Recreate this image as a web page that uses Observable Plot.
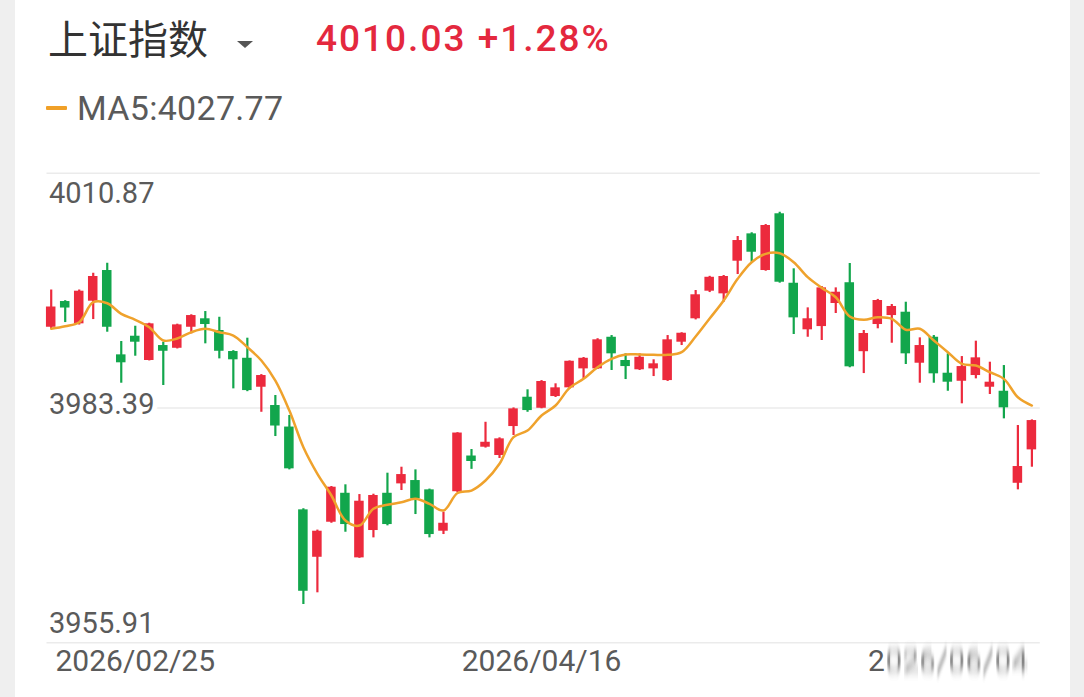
<!DOCTYPE html>
<html>
<head>
<meta charset="utf-8">
<script src="https://cdn.jsdelivr.net/npm/d3@7"></script>
<script src="https://cdn.jsdelivr.net/npm/@observablehq/plot@0.6"></script>
<style>
  html, body { margin: 0; padding: 0; background: #fff; }
  body { width: 1084px; height: 697px; overflow: hidden; position: relative; }
  #header { position: relative; width: 1084px; height: 140px; }
  .abs { position: absolute; line-height: 1; white-space: nowrap; }
  #title { left: 48px; top: 17px; font-family: "Noto Sans CJK SC", sans-serif; font-size: 40px; color: #333; }
  #tri { left: 237px; top: 41px; width: 0; height: 0; border-left: 8px solid transparent; border-right: 8px solid transparent; border-top: 7px solid #555; }
  #price { left: 316px; top: 20px; font-family: Roboto, sans-serif; font-weight: 500; font-size: 37px; letter-spacing: 2px; color: #e4283e; }
  #madash { left: 46px; top: 106px; width: 21px; height: 4px; background: #f0a028; border-radius: 1px; }
  #malabel { left: 77px; top: 91px; font-family: Roboto, sans-serif; font-size: 34px; letter-spacing: 0.3px; color: #5a5a5a; }
  .strip { position: absolute; top: 0; height: 697px; background: #efefef; z-index: 10; }
  #chart svg { display: block; }
</style>
</head>
<body>
<div class="strip" style="left:0;width:15px"></div>
<div class="strip" style="left:1070px;width:14px"></div>
<div id="header">
  <div id="title" class="abs"></div>
  <div id="tri" class="abs"></div>
  <div id="price" class="abs"></div>
  <div id="madash" class="abs"></div>
  <div id="malabel" class="abs"></div>
</div>
<div id="chart"></div>
<script>
// ---- header texts ----
const titleText = "上证指数";
const priceText = "4010.03 +1.28%";
const maLabelText = "MA5:4027.77";

// ---- axis ticks ----
const yTicks = [4010.87, 3983.39, 3955.91];
const dateIdx = [6, 35, 64];
const dateLabels = ["2026/02/25", "2026/04/16", "2026/06/04"];

// ---- candle data ----
const openVals = [3992.84,3995.85,3993.24,3995.89,3999.48,3989.61,3991.79,3988.95,3990.70,3990.38,
  3992.84,3993.83,3992.46,3990.00,3989.21,3985.82,3983.68,3981.16,3971.47,3965.92,
  3970.02,3973.41,3965.85,3969.05,3973.41,3974.51,3974.90,3973.81,3968.97,3973.59,
  3977.77,3978.80,3977.83,3981.22,3984.65,3983.36,3984.73,3985.75,3987.97,3987.97,
  3991.67,3988.95,3987.86,3987.97,3986.60,3991.09,3993.83,3997.06,3996.75,4000.57,
  4003.77,3999.48,4006.12,3997.99,3992.54,3992.92,3995.62,3998.05,3989.98,3993.16,
  3994.21,3994.60,3988.63,3991.67,3987.46,3986.52,3987.19,3985.82,3985.35,3974.58,
  3978.49];
const highVals = [3997.20,3995.95,3997.20,3999.16,4000.33,3991.17,3992.96,3993.31,3991.09,3993.20,
  3994.30,3994.68,3994.01,3990.10,3991.56,3987.30,3984.85,3982.51,3971.60,3969.10,
  3974.20,3974.40,3973.26,3973.30,3975.76,3976.46,3976.15,3973.90,3971.19,3980.50,
  3978.53,3981.72,3979.90,3983.40,3985.52,3986.60,3986.22,3988.90,3989.30,3991.50,
  3991.87,3989.73,3989.73,3989.03,3991.87,3992.20,3997.14,3998.80,3998.90,4003.46,
  4003.90,4004.86,4006.30,3999.68,3995.11,3997.61,3997.45,4000.30,3992.46,3996.10,
  3995.50,3995.77,3991.60,3991.87,3989.73,3989.41,3991.21,3988.75,3988.36,3981.34,
  3982.00];
const lowVals = [3992.60,3993.39,3993.10,3993.74,3992.26,3986.29,3989.45,3988.90,3986.02,3990.30,
  3992.07,3990.90,3989.14,3985.63,3985.30,3982.89,3980.05,3976.15,3960.39,3961.76,
  3969.90,3968.85,3965.80,3968.19,3969.60,3973.73,3970.92,3968.19,3968.58,3973.50,
  3976.21,3978.70,3977.48,3980.17,3982.89,3983.30,3984.62,3985.60,3986.80,3987.90,
  3987.78,3986.72,3987.78,3987.07,3986.50,3990.70,3993.70,3996.90,3995.77,3999.01,
  4000.45,3999.40,3998.00,3991.99,3991.67,3991.29,3994.45,3988.10,3987.42,3992.66,
  3990.97,3988.48,3986.29,3986.29,3985.35,3983.88,3986.80,3984.97,3982.12,3973.81,
  3976.46];
const closeVals = [3995.21,3995.09,3997.06,3998.78,3992.84,3988.68,3991.09,3993.24,3990.03,3993.12,
  3994.21,3993.16,3990.03,3989.03,3985.43,3987.19,3981.28,3976.27,3961.94,3968.97,
  3974.12,3969.75,3972.48,3973.15,3969.75,3975.60,3972.76,3968.58,3969.90,3980.46,
  3977.13,3979.38,3979.78,3983.29,3983.09,3986.49,3985.75,3988.86,3989.21,3991.37,
  3989.73,3988.24,3989.33,3988.56,3991.37,3992.14,3996.64,3998.69,3998.78,4002.99,
  4001.62,4004.75,3998.11,3993.94,3993.83,3997.45,3996.94,3988.21,3992.11,3995.97,
  3995.27,3989.73,3990.70,3987.39,3986.41,3988.24,3989.26,3986.41,3983.41,3976.54,
  3981.92];
const ma5Vals = [3992.66,3992.96,3993.43,3995.77,3995.65,3994.41,3993.71,3992.84,3991.29,3991.52,
  3992.26,3992.66,3992.26,3991.87,3990.50,3988.95,3986.60,3983.09,3978.80,3975.69,
  3973.15,3970.22,3969.63,3971.59,3972.06,3972.36,3972.76,3972.17,3971.39,3973.44,
  3973.73,3974.90,3976.86,3979.97,3980.75,3982.51,3983.68,3985.75,3986.80,3988.16,
  3989.14,3989.65,3989.65,3989.61,3989.61,3989.92,3991.75,3993.86,3995.97,3998.51,
  4000.45,4001.43,4001.50,4000.45,3998.70,3997.45,3996.35,3994.10,3993.71,3994.01,
  3993.83,3992.54,3992.66,3991.29,3989.92,3988.56,3988.36,3987.58,3986.80,3984.65,
  3983.68];

const RED = "#ec2a3d";
const GREEN = "#12a64c";
const ORANGE = "#efa22c";
const GRID = "#ebebeb";
const LABEL = "#5a5a5a";

document.getElementById("title").textContent = titleText;
document.getElementById("price").textContent = priceText;
document.getElementById("malabel").textContent = maLabelText;

const candles = openVals.map((o, i) => ({
  i, open: o, high: highVals[i], low: lowVals[i], close: closeVals[i], ma: ma5Vals[i],
  color: closeVals[i] >= o ? RED : GREEN
}));
const dates = dateIdx.map((d, k) => ({i: d, label: dateLabels[k], k}));

const chart = Plot.plot({
  width: 1084,
  height: 557,
  marginLeft: 46.5,
  marginRight: 44.2,
  marginTop: 32.7,
  marginBottom: 54.7,
  style: {fontFamily: "Roboto, sans-serif", background: "transparent", overflow: "visible"},
  x: {domain: [-0.3, 70.6], axis: null},
  y: {domain: [yTicks[2], yTicks[0]], axis: null},
  color: {type: "identity"},
  marks: [
    Plot.ruleY(yTicks, {stroke: GRID, strokeWidth: 1.5}),
    Plot.ruleX(candles, {x: "i", y1: "low", y2: "high", stroke: "color", strokeWidth: 2.2}),
    Plot.rect(candles, {x1: d => d.i - 0.34, x2: d => d.i + 0.34, y1: "open", y2: "close", fill: "color"}),
    Plot.line(candles, {x: "i", y: "ma", stroke: ORANGE, strokeWidth: 2.5, curve: "catmull-rom"}),
    Plot.text([yTicks[0]], {y: d => d, text: d => d.toFixed(2), frameAnchor: "left", textAnchor: "start", lineAnchor: "top", dx: 2, dy: 9, fontSize: 29, fill: LABEL}),
    Plot.text([yTicks[1]], {y: d => d, text: d => d.toFixed(2), frameAnchor: "left", textAnchor: "start", lineAnchor: "middle", dx: 2, dy: -3, fontSize: 29, fill: LABEL, stroke: "white", strokeWidth: 10, paintOrder: "stroke"}),
    Plot.text([yTicks[2]], {y: d => d, text: d => d.toFixed(2), frameAnchor: "left", textAnchor: "start", lineAnchor: "bottom", dx: 2, dy: -10, fontSize: 29, fill: LABEL}),
    Plot.text(dates, {x: "i", text: "label", frameAnchor: "bottom", textAnchor: "middle", lineAnchor: "bottom", dx: 0, dy: 28, fontSize: 30, fill: LABEL})
  ]
});
document.getElementById("chart").appendChild(chart);

// the third date label is smeared in the reference, apart from its first character:
// split it into a sharp first character and a blurred remainder placed right after it
const defs = d3.select(chart).insert("defs", ":first-child");
defs.append("filter").attr("id", "smear").attr("x", "-10%").attr("y", "-60%").attr("width", "120%").attr("height", "220%")
  .append("feGaussianBlur").attr("stdDeviation", "0.7 5");
const third = d3.select(chart).selectAll("text").filter(function() { return this.textContent === dateLabels[2]; });
third.each(function() {
  const box = this.getBBox();
  const first = this.cloneNode(true);
  first.textContent = dateLabels[2][0];
  first.setAttribute("text-anchor", "start");
  first.setAttribute("x", box.x);
  this.parentNode.appendChild(first);
  const w = first.getComputedTextLength();
  this.textContent = dateLabels[2].slice(1);
  this.setAttribute("text-anchor", "start");
  this.setAttribute("x", box.x + w + 0.5);
  d3.select(this).attr("filter", "url(#smear)").attr("opacity", 0.75);
});
</script>
</body>
</html>
